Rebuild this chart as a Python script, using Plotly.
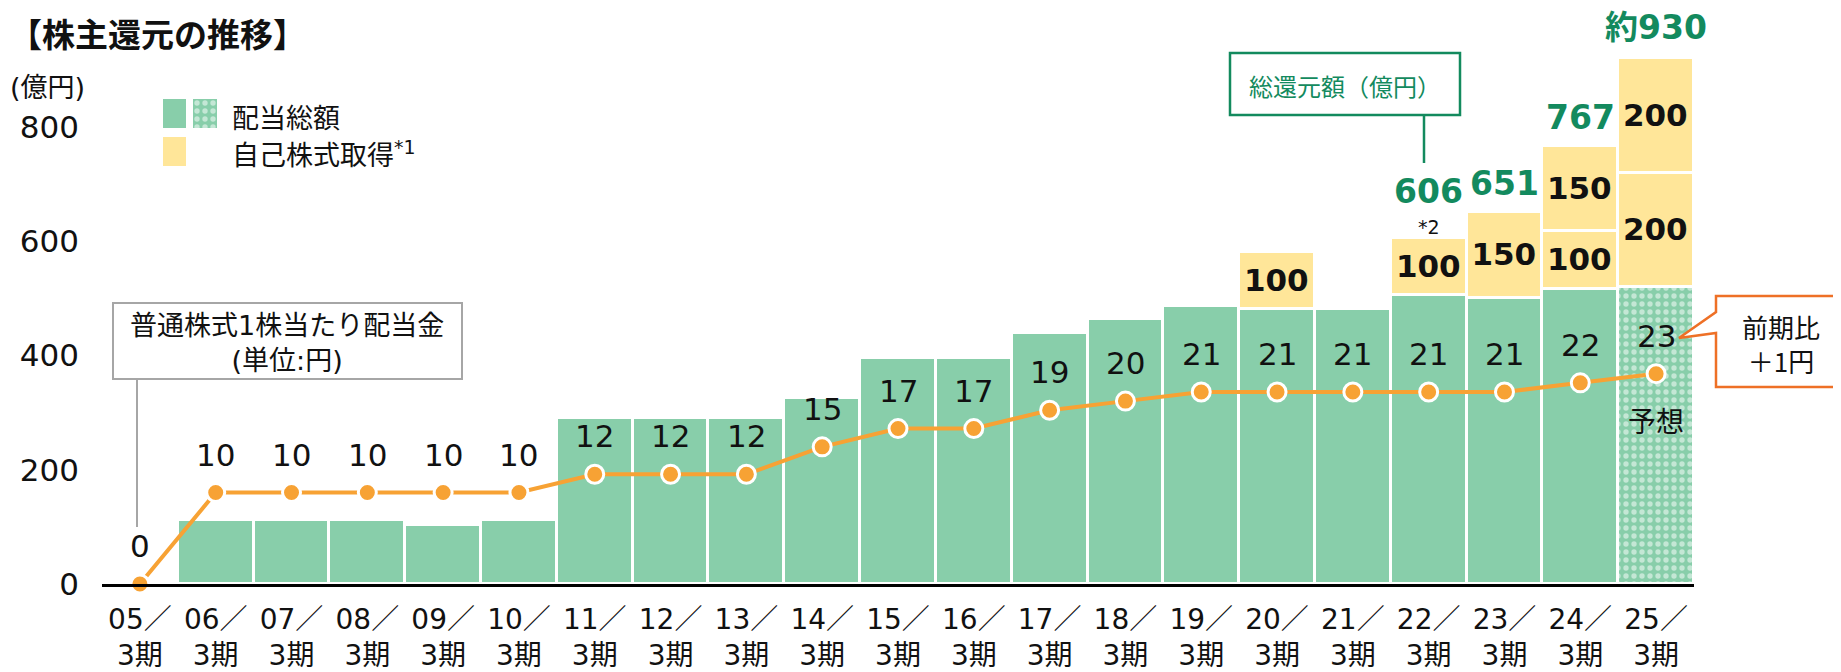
import plotly.graph_objects as go

# ---------------- data ----------------
periods = ["05／<br>3期", "06／<br>3期", "07／<br>3期", "08／<br>3期", "09／<br>3期", "10／<br>3期",
           "11／<br>3期", "12／<br>3期", "13／<br>3期", "14／<br>3期", "15／<br>3期", "16／<br>3期",
           "17／<br>3期", "18／<br>3期", "19／<br>3期", "20／<br>3期", "21／<br>3期", "22／<br>3期",
           "23／<br>3期", "24／<br>3期", "25／<br>3期"]
dividend_total = [None, 112, 112, 112, 103, 112, 290, 290, 290, 326, 395, 395,
                  439, 464, 487, 481, 481, 506, 501, 517, 520]
buyback_1 = [None] * 15 + [100, None, 100, 150, 100, 200]
buyback_2 = [None] * 19 + [150, 200]
dps = [0, 10, 10, 10, 10, 10, 12, 12, 12, 15, 17, 17, 19, 20, 21, 21, 21, 21, 21, 22, 23]
total_idx = [17, 18, 19, 20]
total_text = ["606", "651", "767", "約930"]
total_shift = [46, 28, 28, 31]
forecast_pattern = [""] * 20 + ["."]
y_ticks = [0, 200, 400, 600, 800]

# ---------------- style ----------------
GREEN = "#88CEAA"
YELLOW = "#FFE699"
DKGREEN = "#138A5E"
ORANGE = "#F7A234"
CALLOUT = "#EE7026"
GREY = "#A6A6A6"
TXT = "#111111"
FONT = "DejaVu Sans, Noto Sans CJK JP, sans-serif"
CJK = "Noto Sans CJK JP, sans-serif"

# page offset (body margin) compensated: figure is placed at (8, 8) on screen
OFF = 8
FIG_W, FIG_H = 1841 - OFF, 672 - OFF
L, R, T, B = 102, 1694, 20, 584          # plot area in screen pixels
W, H = R - L, B - T
YMAX = H / 0.5715
SCALE2 = 16.0


def px(x):
    return (x - L) / W


def py(y):
    return (B - y) / H


fig = go.Figure()

fig.add_trace(go.Bar(
    x=periods, y=dividend_total, name="配当総額",
    marker=dict(color=GREEN, line=dict(color="white", width=3.5),
                pattern=dict(shape=forecast_pattern, fgcolor="white", bgcolor=GREEN,
                             size=8, solidity=0.35, fillmode="overlay")),
    hoverinfo="skip", showlegend=False))

for seg in (buyback_1, buyback_2):
    xs = [p for p, v in zip(periods, seg) if v is not None]
    ys = [v for v in seg if v is not None]
    fig.add_trace(go.Bar(
        x=xs, y=ys, name="自己株式取得",
        marker=dict(color=YELLOW, line=dict(color="white", width=3.5)),
        text=[str(v) for v in ys], textposition="inside",
        insidetextanchor="middle", constraintext="none", textangle=0,
        textfont=dict(size=31, color=TXT, family=FONT, weight=700),
        hoverinfo="skip", showlegend=False))

fig.add_trace(go.Scatter(
    x=periods, y=dps, yaxis="y2", mode="lines+markers",
    line=dict(color=ORANGE, width=4),
    marker=dict(size=18, color=ORANGE, line=dict(color="white", width=3)),
    cliponaxis=False, hoverinfo="skip", showlegend=False))

ann = []
# per-share labels
for p, v in zip(periods, dps):
    ann.append(dict(x=p, y=v, xref="x", yref="y2", text=str(v), showarrow=False,
                    yshift=38, font=dict(size=31, color=TXT)))
ann.append(dict(x=periods[20], y=dps[20], xref="x", yref="y2", text="予想", showarrow=False,
                yshift=-46, font=dict(size=28, color=TXT, family=CJK)))

# total return labels
for i, t, s in zip(total_idx, total_text, total_shift):
    tot = (dividend_total[i] or 0) + (buyback_1[i] or 0) + (buyback_2[i] or 0)
    ann.append(dict(x=periods[i], y=tot, xref="x", yref="y", text=t, showarrow=False,
                    yshift=s, font=dict(size=33, color=DKGREEN, weight=700)))
ann.append(dict(x=periods[17], y=606, xref="x", yref="y", text="*2", showarrow=False,
                yshift=11, font=dict(size=19, color=TXT)))

# title, unit, legend text, callout texts
ann += [
    dict(x=px(8), y=py(OFF), xref="paper", yref="paper", xanchor="left", yanchor="top",
         text="【株主還元の推移】", showarrow=False, borderpad=0,
         font=dict(size=33, color=TXT, weight=700, family=CJK)),
    dict(x=px(8), y=py(88), xref="paper", yref="paper", xanchor="left", yanchor="middle",
         text="(億円)", showarrow=False, font=dict(size=27, color=TXT)),
    dict(x=px(230), y=py(116), xref="paper", yref="paper", xanchor="left", yanchor="middle",
         text="配当総額", showarrow=False, font=dict(size=27, color=TXT, family=CJK)),
    dict(x=px(230), y=py(154), xref="paper", yref="paper", xanchor="left", yanchor="middle",
         text="自己株式取得<sup>*1</sup>", showarrow=False, font=dict(size=27, color=TXT)),
    dict(x=px(287), y=py(343), xref="paper", yref="paper", xanchor="center", yanchor="middle",
         text="普通株式1株当たり配当金<br>(単位:円)", showarrow=False,
         font=dict(size=27, color=TXT)),
    dict(x=px(1345), y=py(85), xref="paper", yref="paper", xanchor="center", yanchor="middle",
         text="総還元額（億円）", showarrow=False, font=dict(size=24, color=DKGREEN, family=CJK)),
    dict(x=px(1781), y=py(343), xref="paper", yref="paper", xanchor="center", yanchor="middle",
         text="前期比<br>＋1円", showarrow=False, font=dict(size=26, color=TXT, family=CJK)),
]

shapes = [
    # legend swatches
    dict(type="rect", xref="paper", yref="paper", x0=px(163), x1=px(186), y0=py(128), y1=py(99),
         fillcolor=GREEN, line=dict(width=0)),
    dict(type="rect", xref="paper", yref="paper", x0=px(163), x1=px(186), y0=py(166), y1=py(137),
         fillcolor=YELLOW, line=dict(width=0)),
    # DPS callout box
    dict(type="rect", xref="paper", yref="paper", x0=px(113), x1=px(462), y0=py(379), y1=py(303),
         fillcolor="white", line=dict(color=GREY, width=2)),
    dict(type="line", xref="paper", yref="paper", x0=px(137), x1=px(137), y0=py(379), y1=py(527),
         line=dict(color=GREY, width=2)),
    # total return callout box
    dict(type="rect", xref="paper", yref="paper", x0=px(1230), x1=px(1460), y0=py(115), y1=py(53),
         fillcolor="white", line=dict(color=DKGREEN, width=2.5)),
    dict(type="line", xref="paper", yref="paper", x0=px(1424), x1=px(1424), y0=py(115), y1=py(163),
         line=dict(color=DKGREEN, width=2.5)),
    # YoY callout
    dict(type="path", xref="paper", yref="paper",
         path=("M {a},{b} L {c},{b} L {c},{d} L {a},{d} L {a},{e} L {f},{g} L {a},{h} Z").format(
             a=px(1716), b=py(296), c=px(1837), d=py(387), e=py(333), f=px(1679), g=py(338),
             h=py(312)),
         fillcolor="white", line=dict(color=CALLOUT, width=2.5)),
]

fig.update_layout(
    width=FIG_W, height=FIG_H,
    margin=dict(l=L - OFF, r=FIG_W - (R - OFF), t=T - OFF, b=FIG_H - (B - OFF)),
    paper_bgcolor="white", plot_bgcolor="white",
    font=dict(family=FONT, color=TXT),
    barmode="stack", bargap=0,
    uniformtext=dict(mode="show", minsize=31),
    xaxis=dict(type="category", range=[-0.5, 20.5], showline=True, linecolor="black",
               linewidth=3, ticks="", showgrid=False, zeroline=False, automargin=False,
               tickfont=dict(size=28, color=TXT), ticklabelstandoff=8),
    yaxis=dict(range=[0, YMAX], tickvals=y_ticks, showgrid=False, zeroline=False,
               showline=False, ticks="", tickfont=dict(size=31, color=TXT),
               ticklabelstandoff=22, automargin=False),
    yaxis2=dict(range=[0, YMAX / SCALE2], overlaying="y", visible=False, automargin=False),
    xaxis3=dict(domain=[px(193), px(217)], range=[-0.5, 0.5], visible=False, anchor="y3"),
    yaxis3=dict(domain=[py(128), py(99)], range=[0, 1], visible=False, anchor="x3"),
    annotations=ann, shapes=shapes,
)

# legend swatch for the forecast (patterned) dividend
fig.add_trace(go.Bar(x=[0], y=[1], xaxis="x3", yaxis="y3", width=1,
                     marker=dict(color=GREEN, line=dict(width=0),
                                 pattern=dict(shape=".", fgcolor="white", bgcolor=GREEN,
                                              size=8, solidity=0.35, fillmode="overlay")),
                     hoverinfo="skip", showlegend=False))

fig.write_html("out.html")
